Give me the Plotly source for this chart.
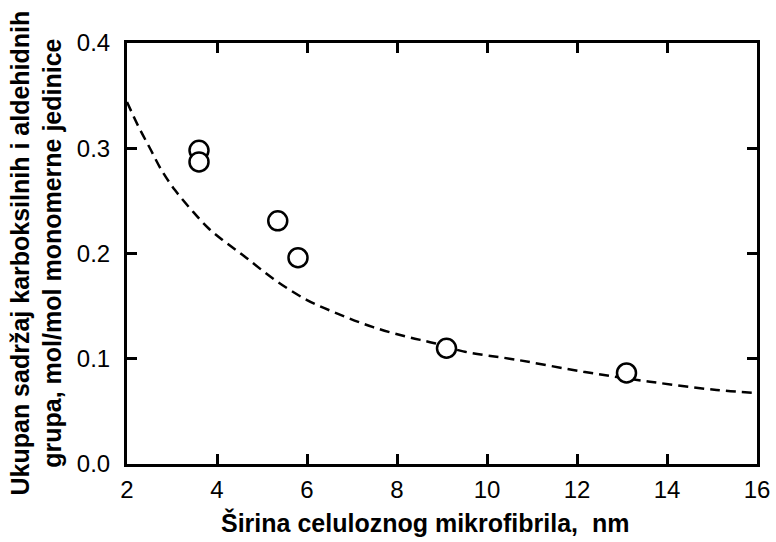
import plotly.graph_objects as go

# Measured data points (open circles)
width_nm = [3.6, 3.6, 5.35, 5.8, 9.1, 13.1]
content = [0.298, 0.287, 0.231, 0.196, 0.110, 0.0865]

# Dashed curve, points
curve_x = [2.0, 2.25, 2.51, 2.77, 3.07, 3.44, 3.81, 4.18, 4.62, 5.25, 5.99, 6.73,
           7.47, 8.21, 8.81, 9.47, 10.66, 12.14, 13.62, 15.1, 16.0]
curve_y = [0.344, 0.321, 0.300, 0.279, 0.260, 0.241, 0.224, 0.211, 0.197, 0.176,
           0.156, 0.142, 0.130, 0.121, 0.115, 0.107, 0.099, 0.0877, 0.0782, 0.0703,
           0.0675]

x_ticks = [2, 4, 6, 8, 10, 12, 14, 16]
y_ticks = [0.0, 0.1, 0.2, 0.3, 0.4]

x_title = "Širina celuloznog mikrofibrila,  nm"
y_title = "Ukupan sadržaj karboksilnih i aldehidnih<br>grupa, mol/mol monomerne jedinice"

FONT = "Liberation Sans, Arial, sans-serif"

fig = go.Figure()
fig.add_trace(go.Scatter(
    x=curve_x, y=curve_y, mode="lines", line_shape="spline",
    line=dict(color="black", width=2.5, dash="10px,6px"),
    showlegend=False, hoverinfo="skip"))
fig.add_trace(go.Scatter(
    x=width_nm, y=content, mode="markers",
    marker=dict(symbol="circle", size=19, color="white",
                line=dict(color="black", width=2.5)),
    showlegend=False))

axis_common = dict(
    showgrid=False, zeroline=False, showline=True, linecolor="black", linewidth=3,
    mirror="ticks", ticks="inside", ticklen=10, tickwidth=2.5, tickcolor="black",
    tickfont=dict(family=FONT, size=24, color="black"),
)

fig.update_xaxes(range=[2, 16], tickvals=x_ticks,
                 ticktext=[str(v) for v in x_ticks], ticklabelstandoff=2,
                 **axis_common)
fig.update_yaxes(range=[0, 0.4], tickvals=y_ticks,
                 ticktext=[f"{v:.1f}" for v in y_ticks], ticklabelstandoff=9,
                 **axis_common)

fig.add_annotation(text=f"<b>{x_title}</b>", xref="paper", yref="paper",
                   x=0.473, y=0, yshift=-58, xanchor="center", yanchor="middle",
                   showarrow=False, font=dict(family=FONT, size=25, color="black"))
fig.add_annotation(text=f"<b>{y_title}</b>", xref="paper", yref="paper",
                   x=0, y=0.5, xshift=-91, xanchor="center", yanchor="middle",
                   textangle=-90, showarrow=False,
                   font=dict(family=FONT, size=25, color="black"))

fig.update_layout(
    width=776, height=542,
    margin=dict(l=127, r=19, t=43, b=78, autoexpand=False),
    paper_bgcolor="white", plot_bgcolor="white",
    font=dict(family=FONT, color="black"),
)

fig.write_html("out.html")
